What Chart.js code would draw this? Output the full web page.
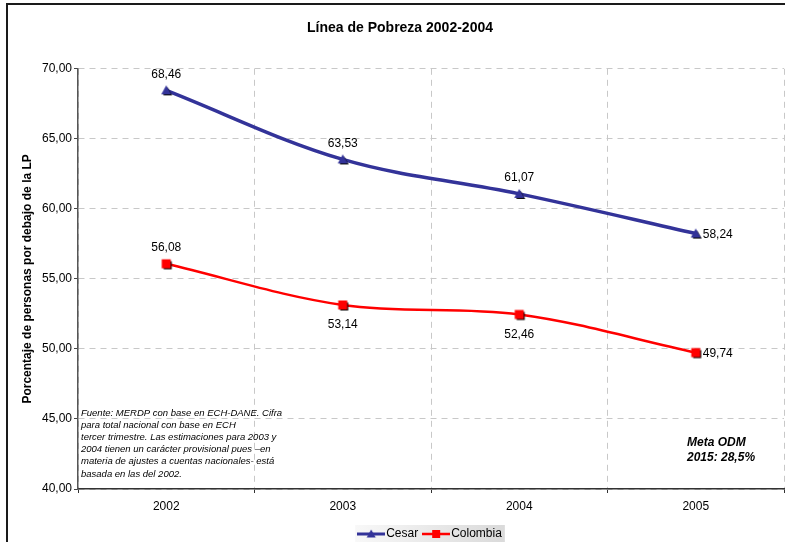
<!DOCTYPE html>
<html><head><meta charset="utf-8">
<script src="https://cdn.jsdelivr.net/npm/chart.js@4/dist/chart.umd.min.js"></script>
<style>
html,body{margin:0;padding:0;background:#fff;}
#wrap{position:relative;width:785px;height:542px;}
</style></head><body>
<div id="wrap"><canvas id="c" width="785" height="542"></canvas></div>
<script>
// ---- data ----
const years = ['2002', '2003', '2004', '2005'];
const cesar = [68.46, 63.53, 61.07, 58.24];
const colombia = [56.08, 53.14, 52.46, 49.74];
const yTicks = [40, 45, 50, 55, 60, 65, 70];
const seriesNames = ['Cesar', 'Colombia'];
const chartTitle = 'Línea de Pobreza 2002-2004';
const yTitle = 'Porcentaje de personas por debajo de la LP';
const noteLines = [
  'Fuente: MERDP con base en ECH-DANE. Cifra',
  'para total nacional con base en ECH',
  'tercer trimestre. Las estimaciones para 2003 y',
  '2004 tienen un carácter provisional pues –en',
  'materia de ajustes a cuentas nacionales- está',
  'basada en las del 2002.'
];
const metaLines = ['Meta ODM', '2015: 28,5%'];
// label placement (style, not data)
const cesarLabelPos = ['above', 'above', 'above', 'right'];
const colombiaLabelPos = ['above', 'below', 'below', 'right'];

const FAM = '"Liberation Sans", Arial, Helvetica, sans-serif';
const BLUE = '#333399', RED = '#ff0000';
const fmt = v => Number(v).toFixed(2).replace('.', ',');

function drawTri(x, cx, cy, r) {
  x.beginPath(); x.moveTo(cx, cy - r); x.lineTo(cx + r, cy + r * 0.8); x.lineTo(cx - r, cy + r * 0.8); x.closePath(); x.fill();
}
function drawSq(x, cx, cy, r) { x.fillRect(cx - r, cy - r, 2 * r, 2 * r); }

function makeMarker(kind, color) {
  const c = document.createElement('canvas'); c.width = 16; c.height = 16;
  const x = c.getContext('2d');
  x.fillStyle = '#000';
  if (kind === 'tri') drawTri(x, 9.5, 9.5, 4.5); else drawSq(x, 9.5, 9.5, 4);
  x.fillStyle = color;
  if (kind === 'tri') drawTri(x, 8, 8, 5); else drawSq(x, 8, 8, 4.5);
  return c;
}
function makeLegendImg(kind, color, lw) {
  const c = document.createElement('canvas'); c.width = 28; c.height = 12;
  const x = c.getContext('2d');
  x.strokeStyle = color; x.lineWidth = lw;
  x.beginPath(); x.moveTo(0, 6); x.lineTo(28, 6); x.stroke();
  x.fillStyle = color;
  if (kind === 'tri') drawTri(x, 14, 6, 4.5); else drawSq(x, 14, 6, 4);
  return c;
}
const legendImgs = [makeLegendImg('tri', BLUE, 3), makeLegendImg('sq', RED, 2.5)];

const framePlugin = {
  id: 'frame',
  afterLayout(chart) {
    if (chart.titleBlock) { chart.titleBlock.left += 8; chart.titleBlock.right += 8; }
    if (chart.legend) { chart.legend.left += 1; chart.legend.right += 1; }
  },
  beforeDraw(chart) {
    const ctx = chart.ctx; ctx.save();
    // legend background
    const hb = chart.legend && chart.legend.legendHitBoxes;
    if (hb && hb.length) {
      const l = hb[0].left - 7, r = hb[hb.length - 1].left + hb[hb.length - 1].width + 3;
      const cy = hb[0].top + hb[0].height / 2;
      const g = ctx.createLinearGradient(l, 0, r, 0);
      g.addColorStop(0, '#f8f8f8'); g.addColorStop(1, '#dadada');
      ctx.fillStyle = g; ctx.fillRect(l, cy - 9, r - l, 18);
    }
    ctx.strokeStyle = '#1a1a1a'; ctx.lineWidth = 2;
    ctx.beginPath(); ctx.moveTo(7, 542); ctx.lineTo(7, 4); ctx.lineTo(785, 4); ctx.stroke();
    ctx.restore();
  },
  beforeDatasetsDraw(chart) {
    const ctx = chart.ctx; ctx.save();
    ctx.fillStyle = '#000'; ctx.textAlign = 'left'; ctx.textBaseline = 'middle';
    ctx.font = 'italic 9.5px ' + FAM;
    noteLines.forEach((t, i) => ctx.fillText(t, 81, 413 + i * 12.2));
    ctx.font = 'italic bold 12px ' + FAM;
    metaLines.forEach((t, i) => ctx.fillText(t, 687, 443 + i * 15));
    ctx.restore();
  },
  afterDatasetsDraw(chart) {
    const ctx = chart.ctx; ctx.save();
    ctx.fillStyle = '#000'; ctx.font = '12px ' + FAM; ctx.textBaseline = 'middle';
    chart.data.datasets.forEach((ds, di) => {
      const meta = chart.getDatasetMeta(di);
      meta.data.forEach((pt, i) => {
        const pos = ds.labelPos[i], txt = fmt(ds.data[i]);
        if (pos === 'above') { ctx.textAlign = 'center'; ctx.fillText(txt, pt.x, pt.y - 16); }
        else if (pos === 'below') { ctx.textAlign = 'center'; ctx.fillText(txt, pt.x, pt.y + 20); }
        else { ctx.textAlign = 'left'; ctx.fillText(txt, pt.x + 7, pt.y + 1); }
      });
    });
    ctx.restore();
  }
};

Chart.defaults.font.family = FAM;
Chart.defaults.color = '#000';

new Chart(document.getElementById('c'), {
  type: 'line',
  data: {
    labels: years,
    datasets: [
      { label: seriesNames[0], data: cesar, labelPos: cesarLabelPos, borderColor: BLUE, backgroundColor: BLUE,
        borderWidth: 3.5, tension: 0.35, pointStyle: makeMarker('tri', BLUE), pointRadius: 6, fill: false },
      { label: seriesNames[1], data: colombia, labelPos: colombiaLabelPos, borderColor: RED, backgroundColor: RED,
        borderWidth: 2.5, tension: 0.35, pointStyle: makeMarker('sq', RED), pointRadius: 6, fill: false }
    ]
  },
  options: {
    responsive: false, animation: false,
    layout: { autoPadding: false, padding: { left: 0, right: 1, top: 0, bottom: -8 } },
    plugins: {
      tooltip: { enabled: false },
      title: { display: true, text: chartTitle, color: '#000',
        font: { size: 14, weight: 'bold', family: FAM }, padding: { top: 20, bottom: 32 } },
      legend: {
        position: 'bottom', fullSize: false,
        labels: {
          usePointStyle: true, pointStyleWidth: 18, padding: 9, color: '#000',
          font: { size: 12, family: FAM },
          generateLabels: chart => chart.data.datasets.map((ds, i) => ({
            text: ds.label, pointStyle: legendImgs[i], fillStyle: 'transparent',
            strokeStyle: 'transparent', lineWidth: 0, hidden: false, datasetIndex: i, fontColor: '#000'
          }))
        }
      }
    },
    scales: {
      x: {
        type: 'category', offset: true,
        grid: { offset: true, color: '#c8c8c8', lineWidth: 1, tickColor: '#333', tickLength: 4, tickBorderDash: [] },
        border: { display: true, color: '#333', width: 1.5, dash: [6, 5] },
        ticks: { color: '#000', font: { size: 12 }, padding: 6, maxRotation: 0 },
        afterFit: s => { s.height = 30; s.paddingLeft = 0; s.paddingRight = 0; }
      },
      y: {
        min: 40, max: 70,
        afterBuildTicks: s => { s.ticks = yTicks.map(v => ({ value: v })); },
        ticks: { callback: v => fmt(v), color: '#000', font: { size: 12 }, padding: 2 },
        grid: { color: '#c8c8c8', lineWidth: 1, tickColor: '#444', tickLength: 4, tickBorderDash: [] },
        border: { display: true, color: '#555', width: 1.5, dash: [6, 5] },
        title: { display: true, text: yTitle, color: '#000', font: { size: 12, weight: 'bold' }, padding: { top: 20, bottom: 0 } },
        afterFit: s => { s.width = 78; }
      }
    }
  },
  plugins: [framePlugin]
});
</script>
</body></html>
